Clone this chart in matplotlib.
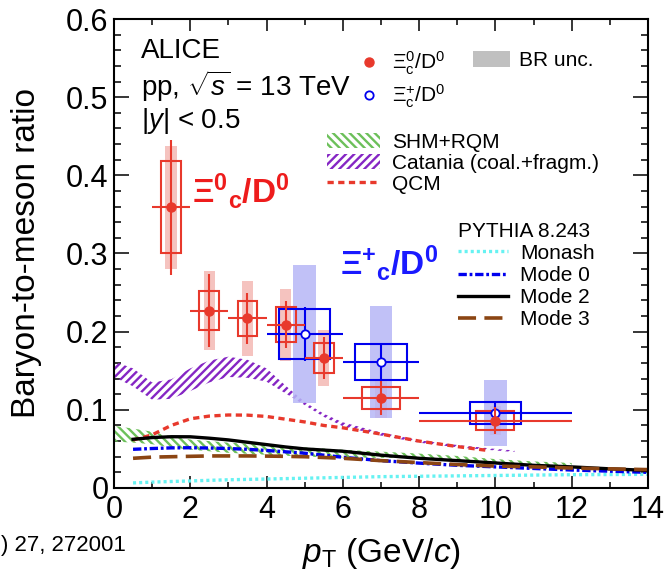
import numpy as np
import matplotlib
matplotlib.use("Agg")
import matplotlib.pyplot as plt
import matplotlib.ticker as ticker
from matplotlib.lines import Line2D
from matplotlib.patches import Patch

plt.rcParams["font.family"] = ["Liberation Sans", "DejaVu Sans"]
plt.rcParams["mathtext.fontset"] = "custom"
plt.rcParams["mathtext.rm"] = "Liberation Sans"
plt.rcParams["mathtext.it"] = "Liberation Sans:italic"
plt.rcParams["mathtext.bf"] = "Liberation Sans:bold"
plt.rcParams["mathtext.default"] = "regular"
plt.rcParams["hatch.linewidth"] = 1.7
plt.rcParams["lines.scale_dashes"] = False

# ── Data: Xi_c^0 / D^0 ───────────────────────────────────────────────────────
xi0_x = np.array([1.5, 2.5, 3.5, 4.5, 5.5, 7.0, 10.0])
xi0_xlo = np.array([1.0, 2.0, 3.0, 4.0, 5.0, 6.0, 8.0])
xi0_xhi = np.array([2.0, 3.0, 4.0, 5.0, 6.0, 8.0, 12.0])
xi0_y = np.array([0.359, 0.227, 0.217, 0.209, 0.166, 0.115, 0.086])
xi0_stat = np.array([0.086, 0.047, 0.033, 0.030, 0.027, 0.022, 0.017])
xi0_syst = np.array([0.059, 0.025, 0.0225, 0.022, 0.019, 0.0145, 0.0123])
xi0_br = np.array([0.079, 0.050, 0.048, 0.046, 0.036, 0.025, 0.0185])

# ── Data: Xi_c^+ / D^0 ───────────────────────────────────────────────────────
xip_x = np.array([5.0, 7.0, 10.0])
xip_xlo = np.array([4.0, 6.0, 8.0])
xip_xhi = np.array([6.0, 8.0, 12.0])
xip_y = np.array([0.197, 0.161, 0.096])
xip_stat = np.array([0.034, 0.022, 0.013])
xip_syst = np.array([0.032, 0.023, 0.0145])
xip_br = np.array([0.088, 0.0715, 0.042])

# ── Models ───────────────────────────────────────────────────────────────────
shm_x = [0, 0.5, 1, 1.5, 2, 3, 4, 5, 6, 7, 8, 9, 10, 11, 12]
shm_hi = [0.0795, 0.076, 0.072, 0.066, 0.062, 0.058, 0.055, 0.052, 0.049,
          0.0465, 0.044, 0.041, 0.037, 0.034, 0.032]
shm_lo = [0.0595, 0.058, 0.056, 0.052, 0.049, 0.045, 0.0425, 0.040, 0.039,
          0.0385, 0.038, 0.035, 0.032, 0.0295, 0.0275]

cat_x = [0, 0.5, 1.0, 1.5, 2.0, 2.5, 3.0, 3.5, 4.0, 4.5, 5.0, 5.5, 6.0,
         7.0, 8.0, 9.0, 10.0, 10.5]
cat_hi = [0.162, 0.153, 0.135, 0.139, 0.153, 0.163, 0.168, 0.164, 0.153,
          0.131, 0.110, 0.095, 0.084, 0.071, 0.061, 0.055, 0.050, 0.048]
cat_lo = [0.142, 0.130, 0.113, 0.114, 0.124, 0.135, 0.142, 0.141, 0.136,
          0.121, 0.106, 0.091, 0.079, 0.067, 0.058, 0.052, 0.048, 0.046]

qcm_x = [0.5, 1, 1.5, 2, 2.5, 3, 3.5, 4, 4.5, 5, 5.5, 6, 7, 8, 9, 9.8]
qcm_y = [0.0614, 0.068, 0.080, 0.0885, 0.092, 0.0934, 0.0932, 0.0915,
         0.088, 0.0845, 0.080, 0.077, 0.069, 0.060, 0.053, 0.048]

py_x = [0.5, 1, 1.5, 2, 2.5, 3, 3.5, 4, 4.5, 5, 5.5, 6, 7, 8, 9, 10,
        11, 12, 13, 14]
mode2_y = [0.0623, 0.0645, 0.0656, 0.0655, 0.0637, 0.0615, 0.0585, 0.0555,
           0.0525, 0.050, 0.0485, 0.047, 0.042, 0.038, 0.035, 0.032,
           0.029, 0.027, 0.0245, 0.0225]
mode0_y = [0.0495, 0.0505, 0.0513, 0.0515, 0.0511, 0.0505, 0.0495, 0.048,
           0.0463, 0.0445, 0.042, 0.0393, 0.035, 0.0318, 0.029, 0.027,
           0.025, 0.023, 0.0215, 0.020]
mode3_y = [0.038, 0.0395, 0.040, 0.0405, 0.041, 0.041, 0.041, 0.0408,
           0.0405, 0.040, 0.039, 0.038, 0.035, 0.0325, 0.030, 0.028,
           0.027, 0.0255, 0.0245, 0.0235]
monash_y = [0.0065, 0.0075, 0.0083, 0.009, 0.0098, 0.0105, 0.011, 0.0115,
            0.012, 0.0125, 0.013, 0.0135, 0.0145, 0.015, 0.0155, 0.016,
            0.0165, 0.017, 0.0172, 0.0175]

# ── Styles ───────────────────────────────────────────────────────────────────
RED = "#e8392c"
BLUE = "#0000ee"
RED_BR = "#f4b9b4"
BLUE_BR = "#b6b6f6"
GREEN = "#6cc05a"
PURPLE = "#8526c4"
CYAN = "#66f2f2"
BROWN = "#8b4513"
LW = 2.4

xi0_boxhw = np.array([0.26, 0.26, 0.26, 0.26, 0.26, 0.5, 0.5])
xip_boxhw = 0.67

fig = plt.figure(figsize=(6.7, 5.76), dpi=100)
ax = fig.add_axes([0.1701, 0.1528, 0.797, 0.8142])

# models
ax.fill_between(shm_x, shm_lo, shm_hi, facecolor="none", edgecolor=GREEN,
                hatch="\\\\\\\\", linewidth=0, zorder=2)
ax.fill_between(cat_x, cat_lo, cat_hi, facecolor="none", edgecolor=PURPLE,
                hatch="////", linewidth=0, zorder=2)
ax.plot(qcm_x, qcm_y, color=RED, lw=LW, dashes=(4.5, 3.2), zorder=2)
ax.plot(py_x, monash_y, color=CYAN, lw=2.4, dashes=(2.2, 2.2), zorder=2)
ax.plot(py_x, mode0_y, color=BLUE, lw=LW, dashes=(6, 2, 2, 2), zorder=2)
ax.plot(py_x, mode2_y, color="black", lw=LW, zorder=2)
ax.plot(py_x, mode3_y, color=BROWN, lw=2.6, dashes=(13, 6), zorder=2)

# BR uncertainty bands
ax.bar(xi0_x, 2 * xi0_br, bottom=xi0_y - xi0_br, width=0.3,
       color=RED_BR, alpha=0.85, linewidth=0, zorder=3)
ax.bar(xip_x, 2 * xip_br, bottom=xip_y - xip_br, width=0.6,
       color=BLUE_BR, alpha=0.85, linewidth=0, zorder=3)

# systematic boxes
ax.bar(xi0_x, 2 * xi0_syst, bottom=xi0_y - xi0_syst, width=2 * xi0_boxhw,
       fill=False, edgecolor=RED, linewidth=1.5, zorder=4)
ax.bar(xip_x, 2 * xip_syst, bottom=xip_y - xip_syst, width=2 * xip_boxhw,
       fill=False, edgecolor=BLUE, linewidth=1.5, zorder=4)

# statistical errors and points
ax.errorbar(xip_x, xip_y, yerr=xip_stat, xerr=[xip_x - xip_xlo, xip_xhi - xip_x],
            fmt="o", color=BLUE, mfc="white", mec=BLUE, ms=6, mew=1.3,
            elinewidth=1.5, capsize=0, zorder=5)
ax.errorbar(xi0_x, xi0_y, yerr=xi0_stat, xerr=[xi0_x - xi0_xlo, xi0_xhi - xi0_x],
            fmt="o", color=RED, ms=6.5, elinewidth=1.5, capsize=0, zorder=6)

# axes
ax.set_xlim(0, 14)
ax.set_ylim(0, 0.6)
ax.xaxis.set_major_locator(ticker.MultipleLocator(2))
ax.xaxis.set_minor_locator(ticker.MultipleLocator(1))
ax.yaxis.set_major_locator(ticker.MultipleLocator(0.1))
ax.yaxis.set_minor_locator(ticker.MultipleLocator(0.02))
ax.yaxis.set_major_formatter(ticker.FuncFormatter(
    lambda v, p: "0" if abs(v) < 1e-9 else f"{v:.1f}"))
ax.tick_params(which="both", direction="in", top=True, right=True,
               width=1.1, labelsize=22)
ax.tick_params(axis="x", which="major", length=8.6, pad=5)
ax.tick_params(axis="x", which="minor", length=4.3)
ax.tick_params(axis="y", which="major", length=10.8, pad=4)
ax.tick_params(axis="y", which="minor", length=5.2)
for s in ax.spines.values():
    s.set_linewidth(1.5)

ax.set_ylabel("Baryon-to-meson ratio", fontsize=24)
ax.yaxis.set_label_coords(-0.135, 0.5)
ax.set_xlabel(r"$\mathit{p}_{\mathrm{T}}$ (GeV/$\mathit{c}$)", fontsize=24)
ax.xaxis.set_label_coords(0.5, -0.102)

# text block
ax.text(0.7, 0.559, "ALICE", fontsize=20, va="center", ha="left")
ax.text(0.7, 0.514, r"pp, $\sqrt{\mathit{s}}$ = 13 TeV", fontsize=20,
        va="center", ha="left")
ax.text(0.7, 0.469, r"|$\mathit{y}$| < 0.5", fontsize=20, va="center", ha="left")

ax.text(2.04, 0.365, r"$\mathbf{\Xi^{0}{}_{c}/D^{0}}$", fontsize=24,
        color="#ee1c1c", va="baseline", ha="left")
ax.text(5.92, 0.273, r"$\mathbf{\Xi^{+}{}_{c}/D^{0}}$", fontsize=24,
        color="#1a1aff", va="baseline", ha="left")

fig.text(1 / 670, 1 - 545 / 576, ") 27, 272001",
         fontsize=16, ha="left", va="center")

# legends
leg_kw = dict(frameon=False, fontsize=15, borderpad=0, borderaxespad=0,
              bbox_transform=ax.transData)

h_data = [Line2D([], [], ls="none", marker="o", color=RED, ms=6.5),
          Line2D([], [], ls="none", marker="o", mfc="white", mec=BLUE,
                 ms=6, mew=1.3)]
leg1 = ax.legend(h_data, [r"$\Xi_{c}^{0}$/D$^{0}$", r"$\Xi_{c}^{+}$/D$^{0}$"],
                 loc="center left", bbox_to_anchor=(6.41, 0.522),
                 handlelength=1.0, handletextpad=0.6, labelspacing=0.25,
                 **leg_kw)
ax.add_artist(leg1)

leg2 = ax.legend([Patch(facecolor="#c0c0c0", edgecolor="none")], ["BR unc."],
                 loc="center left", bbox_to_anchor=(9.4, 0.547),
                 handlelength=1.81, handleheight=0.87, handletextpad=0.4,
                 **leg_kw)
ax.add_artist(leg2)

h_mod = [Patch(facecolor="none", edgecolor=GREEN, hatch="\\\\\\\\", lw=0),
         Patch(facecolor="none", edgecolor=PURPLE, hatch="////", lw=0),
         Line2D([], [], color=RED, lw=LW, dashes=(4.5, 3.2))]
leg3 = ax.legend(h_mod, ["SHM+RQM", "Catania (coal.+fragm.)", "QCM"],
                 loc="center left", bbox_to_anchor=(5.59, 0.4155),
                 handlelength=2.53, handleheight=0.73, handletextpad=0.57,
                 labelspacing=0.1, **leg_kw)
ax.add_artist(leg3)

h_py = [Line2D([], [], color=CYAN, lw=2.4, dashes=(2.2, 2.2)),
        Line2D([], [], color=BLUE, lw=LW, dashes=(6, 2, 2, 2)),
        Line2D([], [], color="black", lw=LW),
        Line2D([], [], color=BROWN, lw=2.6, dashes=(13, 6))]
leg4 = ax.legend(h_py, ["Monash", "Mode 0", "Mode 2", "Mode 3"],
                 title="PYTHIA 8.243", title_fontsize=15, alignment="left",
                 loc="center left", bbox_to_anchor=(9.01, 0.272),
                 handlelength=2.42, handletextpad=0.57, labelspacing=0.15,
                 **leg_kw)

fig.savefig("out.png", dpi=100)
